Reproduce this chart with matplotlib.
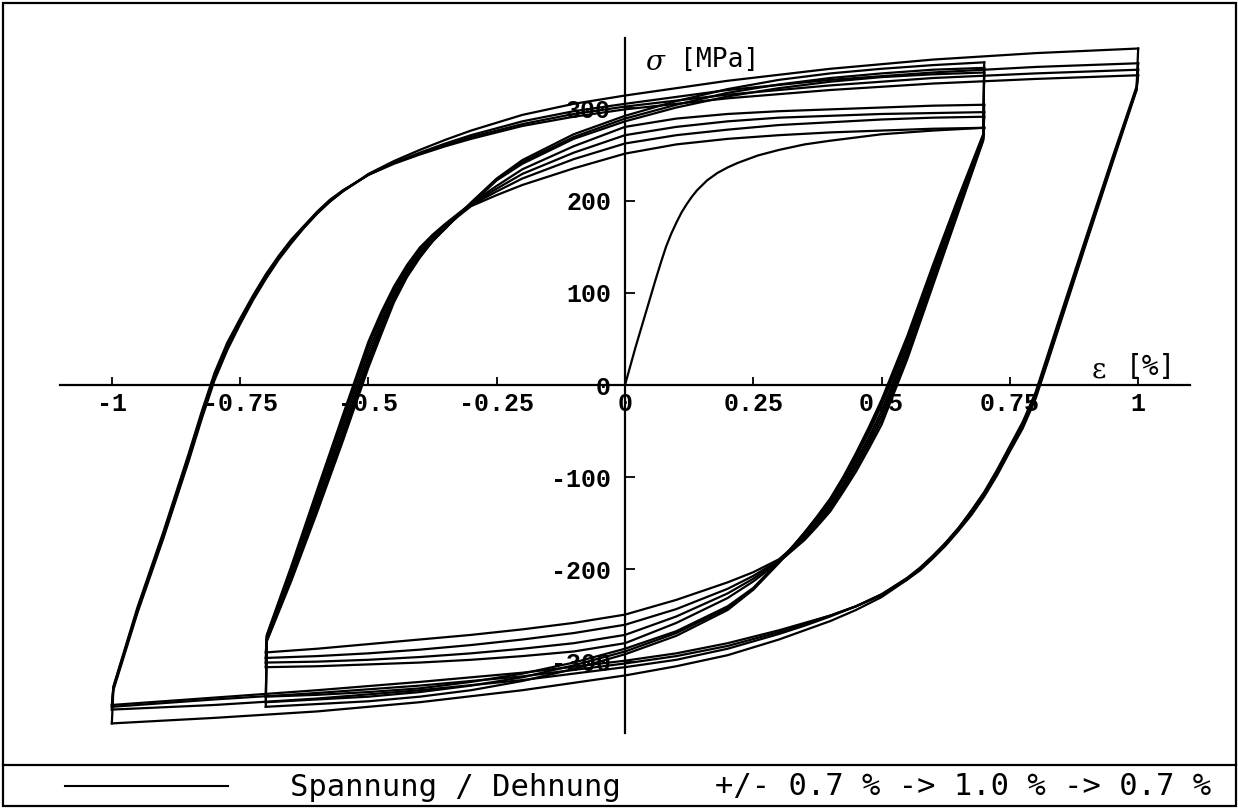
import matplotlib
matplotlib.use("Agg")
import matplotlib.pyplot as plt
from matplotlib.lines import Line2D
from matplotlib.patches import Rectangle

plt.rcParams['axes.unicode_minus'] = False

# Erstbelastung: Dehnung [%], Spannung [MPa]
erst_eps = [0.0, 0.02, 0.044, 0.06, 0.07, 0.08, 0.09, 0.1, 0.11, 0.12, 0.13, 0.14,
            0.16, 0.18, 0.2, 0.22, 0.259, 0.3, 0.35, 0.4, 0.5, 0.6, 0.7]
erst_sig = [0, 40, 85, 115, 133, 150, 164, 176, 187, 196, 204, 211,
            222, 230, 236, 241, 249, 255, 261, 265, 272, 276, 279]

# +/- 0.7 %: aufsteigende Aeste (-0.7 -> 0.7)
innen_auf_eps = [-0.7, -0.698, -0.65, -0.6, -0.55, -0.5, -0.475, -0.45, -0.425, -0.4, -0.375,
                 -0.35, -0.325, -0.3, -0.25, -0.2, -0.1, 0.0, 0.1, 0.2, 0.3, 0.4, 0.5, 0.6, 0.7]
innen_auf_vorher = [
    [-290, -274, -205, -128, -50, 30, 65, 97, 122, 142, 158, 171, 183, 194, 206, 217, 235, 251, 261, 267, 271, 274, 276, 278, 279],
    [-296, -273, -202, -123, -44, 36, 70, 100, 125, 144, 160, 172, 184, 195, 210, 224, 245, 262, 271, 277, 282, 285, 288, 290, 291],
    [-301, -272, -199, -118, -38, 42, 75, 104, 128, 147, 162, 174, 185, 196, 213, 229, 252, 271, 280, 286, 290, 292, 294, 295, 296],
    [-306, -271, -196, -114, -33, 47, 79, 107, 130, 149, 163, 175, 186, 197, 216, 234, 259, 280, 289, 294, 297, 299, 301, 303, 304],
]
innen_auf_nachher = [
    [-338, -276, -208, -132, -55, 25, 61, 94, 119, 140, 156, 170, 184, 196, 222, 240, 267, 286, 301, 313, 322, 329, 334, 337, 339],
    [-344, -277, -210, -135, -58, 22, 58, 92, 118, 139, 156, 170, 184, 197, 223, 242, 269, 289, 304, 317, 326, 333, 338, 342, 344],
    [-349, -278, -212, -138, -61, 19, 55, 90, 117, 138, 156, 170, 184, 198, 224, 244, 272, 292, 308, 321, 331, 338, 343, 347, 350],
]

# +/- 0.7 %: absteigende Aeste (0.7 -> -0.7)
innen_ab_eps = [0.7, 0.698, 0.65, 0.6, 0.55, 0.5, 0.475, 0.45, 0.425, 0.4, 0.375,
                0.35, 0.325, 0.3, 0.25, 0.2, 0.1, 0.0, -0.1, -0.2, -0.3, -0.4, -0.5, -0.6, -0.7]
innen_ab_vorher = [
    [279, 268, 197, 120, 42, -28, -57, -82, -107, -128, -146, -162, -177, -189, -203, -214, -233, -249, -258, -265, -271, -276, -281, -286, -290],
    [291, 267, 194, 116, 37, -33, -61, -86, -110, -131, -149, -164, -178, -190, -207, -221, -243, -260, -269, -276, -282, -287, -291, -294, -296],
    [296, 266, 191, 112, 32, -38, -65, -90, -113, -134, -151, -166, -179, -191, -210, -226, -251, -271, -280, -286, -291, -295, -298, -300, -301],
    [304, 265, 188, 108, 28, -43, -69, -94, -116, -137, -153, -168, -180, -192, -213, -231, -258, -280, -289, -294, -298, -301, -303, -305, -306],
]
innen_ab_nachher = [
    [339, 270, 200, 124, 47, -22, -52, -78, -103, -125, -143, -160, -176, -191, -220, -240, -267, -286, -301, -313, -322, -329, -333, -336, -338],
    [344, 271, 202, 127, 50, -19, -49, -76, -101, -124, -143, -160, -177, -192, -221, -242, -269, -289, -304, -317, -326, -333, -338, -341, -344],
    [350, 272, 204, 130, 53, -16, -46, -74, -100, -123, -142, -160, -177, -193, -222, -244, -272, -292, -308, -321, -331, -338, -343, -346, -349],
]

# +/- 1.0 %: aufsteigende Aeste (-1.0 -> 1.0)
aussen_auf_eps = [-1.0, -0.997, -0.95, -0.9, -0.85, -0.825, -0.8, -0.775, -0.75, -0.725, -0.7,
                  -0.675, -0.65, -0.625, -0.6, -0.575, -0.55, -0.5, -0.45, -0.4, -0.35, -0.3,
                  -0.2, -0.1, 0.0, 0.2, 0.4, 0.6, 0.8, 1.0]
aussen_auf = [
    [-367, -331, -247, -167, -82, -37, 5, 38, 66, 92, 115, 136, 154, 171, 186, 199, 210, 229, 243, 255, 266, 276, 293, 305, 314, 330, 343, 353, 360, 365],
    [-352, -329, -245, -165, -80, -35, 7, 40, 68, 93, 116, 137, 155, 171, 186, 199, 210, 228, 241, 252, 262, 271, 286, 297, 305, 320, 331, 339, 345, 349],
    [-349, -328, -243, -162, -77, -32, 10, 43, 70, 95, 118, 138, 156, 172, 187, 200, 211, 228, 241, 251, 260, 269, 283, 294, 302, 315, 325, 333, 338, 342],
    [-347, -327, -241, -160, -74, -29, 13, 46, 72, 97, 120, 140, 158, 173, 188, 201, 211, 228, 240, 250, 259, 267, 281, 291, 299, 311, 320, 327, 332, 336],
]

# +/- 1.0 %: absteigende Aeste (1.0 -> -1.0)
aussen_ab_eps = [1.0, 0.997, 0.95, 0.9, 0.85, 0.825, 0.8, 0.775, 0.75, 0.725, 0.7,
                 0.675, 0.65, 0.625, 0.6, 0.575, 0.55, 0.5, 0.45, 0.4, 0.35, 0.3,
                 0.2, 0.1, 0.0, -0.2, -0.4, -0.6, -0.8, -1.0]
aussen_ab = [
    [365, 324, 247, 163, 78, 35, -8, -40, -66, -92, -116, -136, -155, -171, -186, -199, -211, -230, -244, -256, -266, -276, -293, -305, -315, -331, -344, -354, -361, -367],
    [349, 322, 245, 160, 75, 32, -10, -42, -68, -94, -117, -137, -155, -171, -185, -198, -209, -227, -240, -251, -261, -270, -286, -298, -306, -320, -331, -340, -347, -352],
    [342, 321, 243, 158, 72, 29, -13, -45, -70, -96, -119, -139, -157, -173, -187, -200, -210, -227, -240, -250, -259, -268, -283, -294, -302, -316, -326, -334, -341, -349],
    [336, 320, 241, 156, 70, 27, -15, -47, -72, -98, -121, -141, -158, -174, -188, -201, -211, -228, -240, -250, -258, -266, -280, -291, -299, -312, -322, -331, -339, -347],
]

x_ticks = [-1, -0.75, -0.5, -0.25, 0, 0.25, 0.5, 0.75, 1]
x_tick_labels = ["-1", "-0.75", "-0.5", "-0.25", "0", "0.25", "0.5", "0.75", "1"]
y_ticks = [-300, -200, -100, 0, 100, 200, 300]
y_tick_labels = ["-300", "-200", "-100", "0", "100", "200", "300"]

W, H = 1238, 809
fig = plt.figure(figsize=(W / 100, H / 100), dpi=100)
ax = fig.add_axes([60 / W, 1 - 733 / H, 1130 / W, 695 / H])
ax.set_xlim(-1.101, 1.101)
ax.set_ylim(-377.4, 376.4)
ax.patch.set_visible(False)

kw = dict(color="black", lw=1.6, zorder=3, solid_joinstyle="round")
ax.plot(erst_eps, erst_sig, **kw)
for sig in innen_auf_vorher + innen_auf_nachher:
    ax.plot(innen_auf_eps, sig, **kw)
for sig in innen_ab_vorher + innen_ab_nachher:
    ax.plot(innen_ab_eps, sig, **kw)
for sig in aussen_auf:
    ax.plot(aussen_auf_eps, sig, **kw)
for sig in aussen_ab:
    ax.plot(aussen_ab_eps, sig, **kw)

# Achsenkreuz durch den Ursprung
for s in ["top", "right"]:
    ax.spines[s].set_visible(False)
ax.spines["left"].set_position(("data", 0))
ax.spines["bottom"].set_position(("data", 0))
for s in ["left", "bottom"]:
    ax.spines[s].set_linewidth(1.6)

ax.set_xticks(x_ticks)
ax.set_xticklabels(x_tick_labels)
ax.set_yticks(y_ticks)
ax.set_yticklabels(y_tick_labels)
ax.tick_params(axis="x", direction="in", length=6, width=1.3, pad=5)
ax.tick_params(axis="y", direction="in", length=7, width=1.3, pad=10)
for lab in ax.get_xticklabels() + ax.get_yticklabels():
    lab.set_family("Liberation Mono")
    lab.set_weight("bold")
    lab.set_fontsize(18)

# Achsenbeschriftungen
fig.text(645 / W, 1 - 63 / H, "σ", family="DejaVu Serif", style="italic",
         fontsize=20, va="center", ha="left")
fig.text(680 / W, 1 - 60 / H, "[MPa]", family="DejaVu Sans Mono",
         fontsize=19, va="center", ha="left")
fig.text(1092 / W, 1 - 370 / H, "ε", family="DejaVu Serif",
         fontsize=20, va="center", ha="left")
fig.text(1126 / W, 1 - 367 / H, "[%]", family="DejaVu Sans Mono",
         fontsize=20, va="center", ha="left")

# Rahmen und Legendenzeile
fig.add_artist(Rectangle((3 / W, 3 / H), 1233 / W, 803 / H, fill=False,
                         lw=1.6, edgecolor="black", transform=fig.transFigure))
fig.add_artist(Line2D([3 / W, 1236 / W], [1 - 765 / H] * 2, color="black", lw=1.6))
fig.add_artist(Line2D([65 / W, 228 / W], [1 - 786 / H] * 2, color="black", lw=1.5))
fig.text(290 / W, 1 - 787 / H, "Spannung / Dehnung", family="DejaVu Sans Mono",
         fontsize=22, va="center", ha="left")
fig.text(715 / W, 1 - 787 / H, "+/- 0.7 % -> 1.0 % -> 0.7 %", family="DejaVu Sans Mono",
         fontsize=22, va="center", ha="left")

fig.savefig("out.png", dpi=100, facecolor="white")
